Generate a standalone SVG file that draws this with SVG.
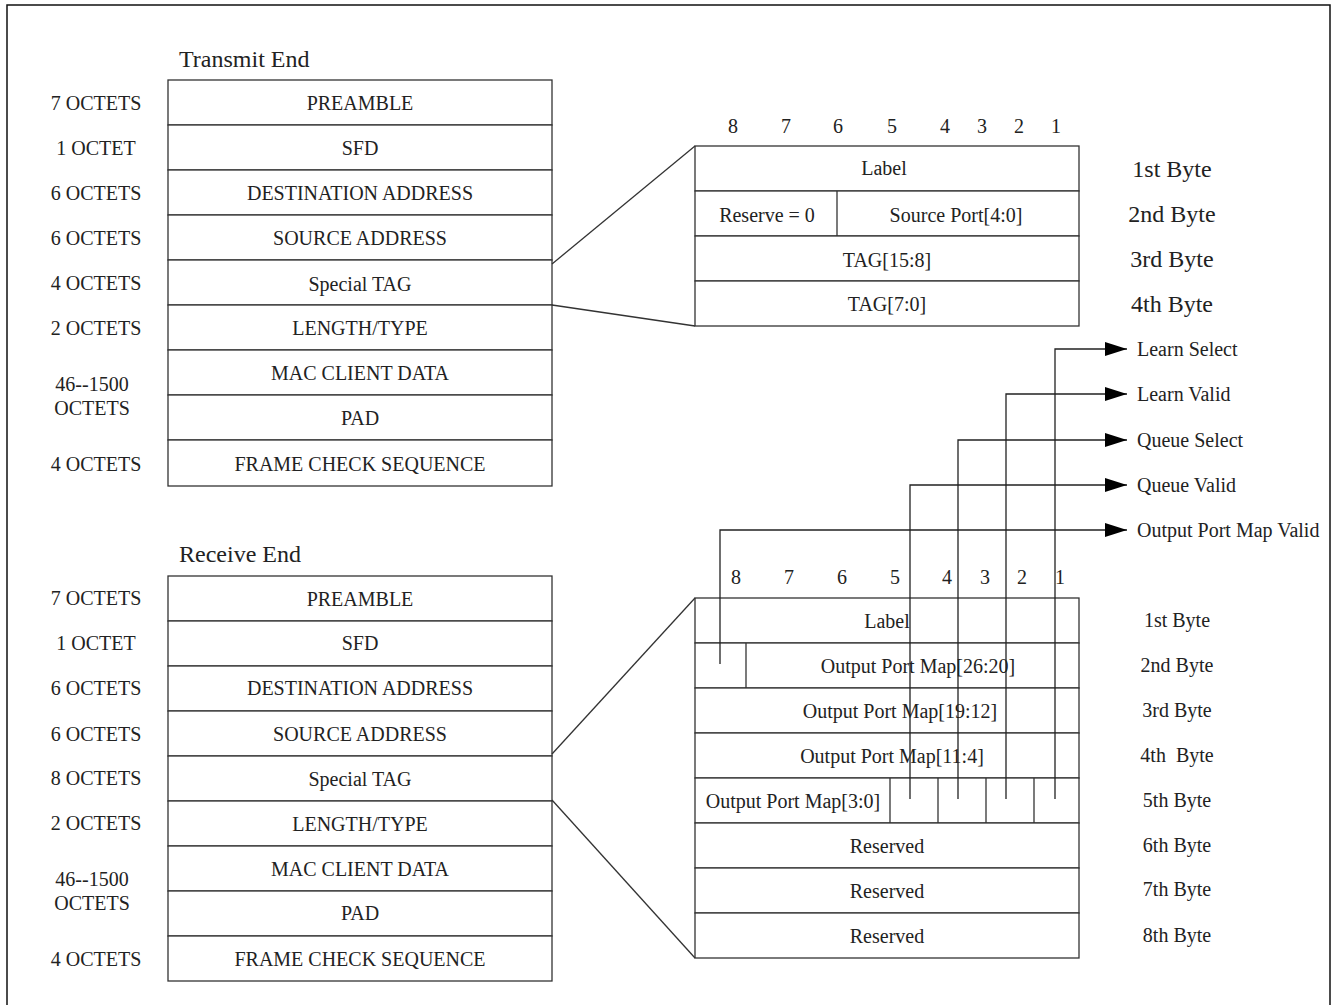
<svg xmlns="http://www.w3.org/2000/svg" width="1331" height="1005" viewBox="0 0 1331 1005">
<defs>
<style>
text{font-family:"Liberation Serif","Times New Roman",serif;font-size:20px;fill:#222}
.c{text-anchor:middle}
.t{font-size:24px}
.bl{font-size:24px;text-anchor:middle}
.cell{fill:#fff;stroke:#333;stroke-width:1.3}
.ln{stroke:#333;stroke-width:1.3;fill:none}
.sig{stroke:#222;stroke-width:1.3;fill:none}
</style>
<marker id="ah" markerWidth="22" markerHeight="14" refX="22" refY="7" orient="auto" markerUnits="userSpaceOnUse">
<path d="M0,0 L22,7 L0,14 Z" fill="#000"/>
</marker>
</defs>
<rect x="0" y="0" width="1331" height="1005" fill="#fff"/>
<rect x="7" y="5" width="1323" height="1010" fill="none" stroke="#111" stroke-width="1.5"/>

<!-- Transmit End frame -->
<g id="tx-frame">
<text class="t" x="179" y="67">Transmit End</text>
<rect class="cell" x="168" y="80" width="384" height="45"/>
<rect class="cell" x="168" y="125" width="384" height="45"/>
<rect class="cell" x="168" y="170" width="384" height="45"/>
<rect class="cell" x="168" y="215" width="384" height="45"/>
<rect class="cell" x="168" y="260" width="384" height="45"/>
<rect class="cell" x="168" y="305" width="384" height="45"/>
<rect class="cell" x="168" y="350" width="384" height="45"/>
<rect class="cell" x="168" y="395" width="384" height="45"/>
<rect class="cell" x="168" y="440" width="384" height="46"/>
<text class="c" x="360" y="110">PREAMBLE</text>
<text class="c" x="360" y="155">SFD</text>
<text class="c" x="360" y="200">DESTINATION ADDRESS</text>
<text class="c" x="360" y="245">SOURCE ADDRESS</text>
<text class="c" x="360" y="291">Special TAG</text>
<text class="c" x="360" y="335">LENGTH/TYPE</text>
<text class="c" x="360" y="380">MAC CLIENT DATA</text>
<text class="c" x="360" y="425">PAD</text>
<text class="c" x="360" y="471">FRAME CHECK SEQUENCE</text>
<text class="c" x="96" y="110">7 OCTETS</text>
<text class="c" x="96" y="155">1 OCTET</text>
<text class="c" x="96" y="200">6 OCTETS</text>
<text class="c" x="96" y="245">6 OCTETS</text>
<text class="c" x="96" y="290">4 OCTETS</text>
<text class="c" x="96" y="335">2 OCTETS</text>
<text class="c" x="92" y="391">46--1500</text>
<text class="c" x="92" y="415">OCTETS</text>
<text class="c" x="96" y="471">4 OCTETS</text>
</g>

<!-- Receive End frame -->
<g id="rx-frame">
<text class="t" x="179" y="562">Receive End</text>
<rect class="cell" x="168" y="576" width="384" height="45"/>
<rect class="cell" x="168" y="621" width="384" height="45"/>
<rect class="cell" x="168" y="666" width="384" height="45"/>
<rect class="cell" x="168" y="711" width="384" height="45"/>
<rect class="cell" x="168" y="756" width="384" height="45"/>
<rect class="cell" x="168" y="801" width="384" height="45"/>
<rect class="cell" x="168" y="846" width="384" height="45"/>
<rect class="cell" x="168" y="891" width="384" height="45"/>
<rect class="cell" x="168" y="936" width="384" height="45"/>
<text class="c" x="360" y="606">PREAMBLE</text>
<text class="c" x="360" y="650">SFD</text>
<text class="c" x="360" y="695">DESTINATION ADDRESS</text>
<text class="c" x="360" y="741">SOURCE ADDRESS</text>
<text class="c" x="360" y="786">Special TAG</text>
<text class="c" x="360" y="831">LENGTH/TYPE</text>
<text class="c" x="360" y="876">MAC CLIENT DATA</text>
<text class="c" x="360" y="920">PAD</text>
<text class="c" x="360" y="966">FRAME CHECK SEQUENCE</text>
<text class="c" x="96" y="605">7 OCTETS</text>
<text class="c" x="96" y="650">1 OCTET</text>
<text class="c" x="96" y="695">6 OCTETS</text>
<text class="c" x="96" y="741">6 OCTETS</text>
<text class="c" x="96" y="785">8 OCTETS</text>
<text class="c" x="96" y="830">2 OCTETS</text>
<text class="c" x="92" y="886">46--1500</text>
<text class="c" x="92" y="910">OCTETS</text>
<text class="c" x="96" y="966">4 OCTETS</text>
</g>

<!-- Transmit special tag detail -->
<g id="tx-tag">
<text class="c" x="733" y="133">8</text>
<text class="c" x="786" y="133">7</text>
<text class="c" x="838" y="133">6</text>
<text class="c" x="892" y="133">5</text>
<text class="c" x="945" y="133">4</text>
<text class="c" x="982" y="133">3</text>
<text class="c" x="1019" y="133">2</text>
<text class="c" x="1056" y="133">1</text>
<rect class="cell" x="695" y="146" width="384" height="45"/>
<rect class="cell" x="695" y="191" width="384" height="45"/>
<rect class="cell" x="695" y="236" width="384" height="45"/>
<rect class="cell" x="695" y="281" width="384" height="45"/>
<line class="ln" x1="837" y1="191" x2="837" y2="236"/>
<text class="c" x="884" y="175">Label</text>
<text class="c" x="767" y="222">Reserve = 0</text>
<text class="c" x="956" y="222">Source Port[4:0]</text>
<text class="c" x="887" y="267">TAG[15:8]</text>
<text class="c" x="887" y="311">TAG[7:0]</text>
<text class="bl" x="1172" y="177">1st Byte</text>
<text class="bl" x="1172" y="222">2nd Byte</text>
<text class="bl" x="1172" y="267">3rd Byte</text>
<text class="bl" x="1172" y="312">4th Byte</text>
</g>

<!-- Receive special tag detail -->
<g id="rx-tag">
<text class="c" x="736" y="584">8</text>
<text class="c" x="789" y="584">7</text>
<text class="c" x="842" y="584">6</text>
<text class="c" x="895" y="584">5</text>
<text class="c" x="947" y="584">4</text>
<text class="c" x="985" y="584">3</text>
<text class="c" x="1022" y="584">2</text>
<text class="c" x="1060" y="584">1</text>
<rect class="cell" x="695" y="598" width="384" height="45"/>
<rect class="cell" x="695" y="643" width="384" height="45"/>
<rect class="cell" x="695" y="688" width="384" height="45"/>
<rect class="cell" x="695" y="733" width="384" height="45"/>
<rect class="cell" x="695" y="778" width="384" height="45"/>
<rect class="cell" x="695" y="823" width="384" height="45"/>
<rect class="cell" x="695" y="868" width="384" height="45"/>
<rect class="cell" x="695" y="913" width="384" height="45"/>
<line class="ln" x1="746" y1="643" x2="746" y2="688" stroke-width="2.2"/>
<line class="ln" x1="890" y1="778" x2="890" y2="823"/>
<line class="ln" x1="938" y1="778" x2="938" y2="823"/>
<line class="ln" x1="986" y1="778" x2="986" y2="823"/>
<line class="ln" x1="1034" y1="778" x2="1034" y2="823"/>
<text class="c" x="887" y="628">Label</text>
<text class="c" x="918" y="673">Output Port Map[26:20]</text>
<text class="c" x="900" y="718">Output Port Map[19:12]</text>
<text class="c" x="892" y="763">Output Port Map[11:4]</text>
<text class="c" x="793" y="808">Output Port Map[3:0]</text>
<text class="c" x="887" y="853">Reserved</text>
<text class="c" x="887" y="898">Reserved</text>
<text class="c" x="887" y="943">Reserved</text>
<text class="c" x="1177" y="627">1st Byte</text>
<text class="c" x="1177" y="672">2nd Byte</text>
<text class="c" x="1177" y="717">3rd Byte</text>
<text class="c" x="1177" y="762" xml:space="preserve">4th  Byte</text>
<text class="c" x="1177" y="807">5th Byte</text>
<text class="c" x="1177" y="852">6th Byte</text>
<text class="c" x="1177" y="896">7th Byte</text>
<text class="c" x="1177" y="942">8th Byte</text>
</g>

<!-- Signal outputs -->
<g id="signals">
<text x="1137" y="356">Learn Select</text>
<text x="1137" y="401">Learn Valid</text>
<text x="1137" y="447">Queue Select</text>
<text x="1137" y="492">Queue Valid</text>
<text x="1137" y="537">Output Port Map Valid</text>
</g>

<g id="connectors">
<line class="ln" x1="552" y1="264" x2="695" y2="146"/>
<line class="ln" x1="552" y1="305" x2="695" y2="326"/>
<line class="ln" x1="552" y1="754" x2="695" y2="598"/>
<line class="ln" x1="552" y1="800" x2="695" y2="958"/>
<polyline class="sig" points="1055,799 1055,349 1127,349" marker-end="url(#ah)"/>
<polyline class="sig" points="1006,799 1006,394 1127,394" marker-end="url(#ah)"/>
<polyline class="sig" points="958,799 958,440 1127,440" marker-end="url(#ah)"/>
<polyline class="sig" points="910,799 910,485 1127,485" marker-end="url(#ah)"/>
<polyline class="sig" points="720,664 720,530 1127,530" marker-end="url(#ah)"/>
</g>
</svg>
